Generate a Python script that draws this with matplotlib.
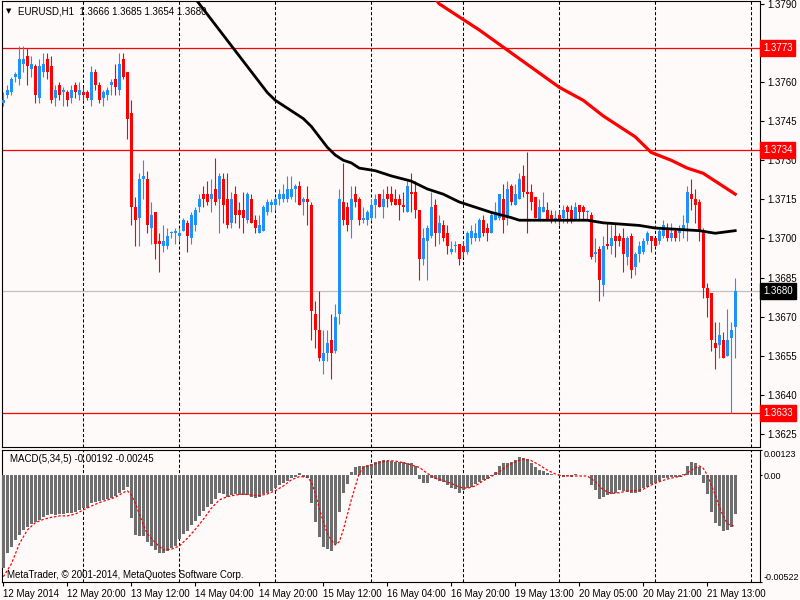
import numpy as np
import matplotlib
matplotlib.use("Agg")
import matplotlib.pyplot as plt
import matplotlib.transforms as mtrans

plt.rcParams['font.family'] = ['Liberation Sans', 'DejaVu Sans']
plt.rcParams['font.size'] = 7

# EURUSD H1 candles, 12 May 04:00 .. 21 May 20:00 (one value per bar)
opens = [
    1.3752, 1.3755, 1.3756, 1.3762, 1.3761, 1.3767, 1.3770, 1.3765, 1.3766, 1.3754,
    1.3764, 1.3769, 1.3766, 1.3754, 1.3759, 1.3756, 1.3756, 1.3754, 1.3759, 1.3755,
    1.3756, 1.3756, 1.3753, 1.3764, 1.3759, 1.3754, 1.3755, 1.3759, 1.3761, 1.3757,
    1.3769, 1.3764, 1.3748, 1.3712, 1.3708, 1.3723, 1.3723, 1.3704, 1.3710, 1.3699,
    1.3697, 1.3697, 1.3702, 1.3702, 1.3701, 1.3703, 1.3706, 1.3700, 1.3705, 1.3712,
    1.3717, 1.3717, 1.3715, 1.3719, 1.3715, 1.3723, 1.3715, 1.3706, 1.3717, 1.3711,
    1.3711, 1.3707, 1.3715, 1.3707, 1.3702, 1.3703, 1.3710, 1.3713, 1.3713, 1.3715,
    1.3715, 1.3715, 1.3716, 1.3719, 1.3720, 1.3714, 1.3715, 1.3713, 1.3671, 1.3665,
    1.3653, 1.3656, 1.3661, 1.3657, 1.3671, 1.3714, 1.3712, 1.3707, 1.3717, 1.3715,
    1.3707, 1.3707, 1.3708, 1.3713, 1.3717, 1.3712, 1.3717, 1.3717, 1.3715, 1.3715,
    1.3713, 1.3710, 1.3718, 1.3718, 1.3711, 1.3692, 1.3699, 1.3701, 1.3713, 1.3702,
    1.3705, 1.3702, 1.3695, 1.3697, 1.3698, 1.3697, 1.3695, 1.3700, 1.3700, 1.3700,
    1.3707, 1.3704, 1.3702, 1.3707, 1.3708, 1.3715, 1.3708, 1.3720, 1.3713, 1.3715,
    1.3724, 1.3718, 1.3718, 1.3716, 1.3707, 1.3710, 1.3711, 1.3709, 1.3707, 1.3709,
    1.3708, 1.3712, 1.3711, 1.3707, 1.3713, 1.3712, 1.3710, 1.3709, 1.3694, 1.3696,
    1.3682, 1.3698, 1.3697, 1.3701, 1.3701, 1.3700, 1.3693, 1.3701, 1.3689, 1.3694,
    1.3695, 1.3699, 1.3701, 1.3700, 1.3699, 1.3701, 1.3704, 1.3700, 1.3703, 1.3702,
    1.3703, 1.3706, 1.3717, 1.3715, 1.3714, 1.3703, 1.3681, 1.3679, 1.3660, 1.3659,
    1.3661, 1.3655, 1.3662, 1.3666]
highs = [
    1.3756, 1.3759, 1.3762, 1.3764, 1.3774, 1.3774, 1.3773, 1.3770, 1.3767, 1.3769,
    1.3771, 1.3771, 1.3770, 1.3759, 1.3760, 1.3758, 1.3757, 1.3759, 1.3760, 1.3760,
    1.3758, 1.3757, 1.3766, 1.3765, 1.3760, 1.3757, 1.3758, 1.3761, 1.3767, 1.3771,
    1.3771, 1.3764, 1.3753, 1.3716, 1.3725, 1.3730, 1.3726, 1.3714, 1.3710, 1.3702,
    1.3705, 1.3704, 1.3703, 1.3704, 1.3704, 1.3708, 1.3707, 1.3710, 1.3712, 1.3717,
    1.3720, 1.3722, 1.3723, 1.3731, 1.3725, 1.3725, 1.3725, 1.3718, 1.3720, 1.3714,
    1.3718, 1.3718, 1.3717, 1.3709, 1.3709, 1.3713, 1.3715, 1.3715, 1.3716, 1.3719,
    1.3721, 1.3724, 1.3724, 1.3721, 1.3722, 1.3716, 1.3720, 1.3714, 1.3676, 1.3680,
    1.3665, 1.3665, 1.3671, 1.3675, 1.3719, 1.3729, 1.3714, 1.3720, 1.3720, 1.3716,
    1.3712, 1.3711, 1.3715, 1.3717, 1.3717, 1.3719, 1.3720, 1.3720, 1.3719, 1.3717,
    1.3718, 1.3722, 1.3725, 1.3722, 1.3711, 1.3704, 1.3705, 1.3718, 1.3715, 1.3709,
    1.3707, 1.3705, 1.3699, 1.3699, 1.3698, 1.3699, 1.3703, 1.3705, 1.3706, 1.3708,
    1.3709, 1.3706, 1.3710, 1.3714, 1.3717, 1.3721, 1.3722, 1.3721, 1.3721, 1.3725,
    1.3728, 1.3733, 1.3721, 1.3716, 1.3715, 1.3718, 1.3714, 1.3711, 1.3711, 1.3711,
    1.3713, 1.3713, 1.3713, 1.3714, 1.3713, 1.3713, 1.3711, 1.3710, 1.3700, 1.3697,
    1.3701, 1.3706, 1.3705, 1.3706, 1.3702, 1.3704, 1.3701, 1.3702, 1.3695, 1.3699,
    1.3700, 1.3703, 1.3701, 1.3700, 1.3704, 1.3707, 1.3706, 1.3706, 1.3704, 1.3705,
    1.3709, 1.3720, 1.3723, 1.3719, 1.3715, 1.3704, 1.3683, 1.3679, 1.3668, 1.3668,
    1.3664, 1.3673, 1.3668, 1.3685]
lows = [
    1.3751, 1.3754, 1.3755, 1.3760, 1.3759, 1.3764, 1.3759, 1.3762, 1.3752, 1.3752,
    1.3762, 1.3761, 1.3752, 1.3751, 1.3753, 1.3751, 1.3751, 1.3752, 1.3754, 1.3753,
    1.3753, 1.3753, 1.3751, 1.3757, 1.3752, 1.3751, 1.3753, 1.3755, 1.3755, 1.3755,
    1.3761, 1.3738, 1.3705, 1.3697, 1.3697, 1.3715, 1.3702, 1.3698, 1.3692, 1.3687,
    1.3695, 1.3696, 1.3700, 1.3698, 1.3699, 1.3703, 1.3695, 1.3698, 1.3703, 1.3710,
    1.3712, 1.3713, 1.3710, 1.3713, 1.3702, 1.3706, 1.3704, 1.3704, 1.3706, 1.3704,
    1.3702, 1.3706, 1.3706, 1.3702, 1.3702, 1.3703, 1.3709, 1.3710, 1.3711, 1.3713,
    1.3714, 1.3714, 1.3715, 1.3714, 1.3713, 1.3709, 1.3705, 1.3661, 1.3658, 1.3653,
    1.3648, 1.3653, 1.3646, 1.3656, 1.3667, 1.3705, 1.3703, 1.3700, 1.3712, 1.3705,
    1.3706, 1.3705, 1.3707, 1.3708, 1.3712, 1.3708, 1.3712, 1.3713, 1.3713, 1.3707,
    1.3710, 1.3710, 1.3710, 1.3708, 1.3684, 1.3690, 1.3684, 1.3700, 1.3697, 1.3698,
    1.3699, 1.3694, 1.3694, 1.3695, 1.3690, 1.3693, 1.3694, 1.3698, 1.3699, 1.3699,
    1.3701, 1.3699, 1.3702, 1.3707, 1.3707, 1.3702, 1.3705, 1.3713, 1.3713, 1.3715,
    1.3716, 1.3702, 1.3711, 1.3708, 1.3707, 1.3710, 1.3707, 1.3706, 1.3706, 1.3705,
    1.3706, 1.3706, 1.3706, 1.3707, 1.3707, 1.3707, 1.3707, 1.3692, 1.3691, 1.3676,
    1.3678, 1.3696, 1.3694, 1.3693, 1.3697, 1.3687, 1.3690, 1.3685, 1.3686, 1.3691,
    1.3694, 1.3698, 1.3695, 1.3697, 1.3698, 1.3700, 1.3699, 1.3699, 1.3699, 1.3699,
    1.3700, 1.3699, 1.3711, 1.3706, 1.3699, 1.3677, 1.3670, 1.3657, 1.3650, 1.3654,
    1.3654, 1.3655, 1.3633, 1.3654]
closes = [
    1.3753, 1.3757, 1.3761, 1.3763, 1.3769, 1.3769, 1.3766, 1.3767, 1.3755, 1.3766,
    1.3767, 1.3764, 1.3753, 1.3757, 1.3755, 1.3757, 1.3753, 1.3757, 1.3756, 1.3757,
    1.3755, 1.3754, 1.3764, 1.3759, 1.3753, 1.3756, 1.3757, 1.3760, 1.3758, 1.3767,
    1.3762, 1.3746, 1.3712, 1.3707, 1.3723, 1.3724, 1.3705, 1.3709, 1.3698, 1.3698,
    1.3699, 1.3701, 1.3702, 1.3703, 1.3702, 1.3707, 1.3701, 1.3709, 1.3711, 1.3715,
    1.3715, 1.3714, 1.3717, 1.3714, 1.3724, 1.3713, 1.3705, 1.3715, 1.3709, 1.3709,
    1.3708, 1.3717, 1.3706, 1.3704, 1.3705, 1.3712, 1.3714, 1.3714, 1.3715, 1.3717,
    1.3717, 1.3719, 1.3719, 1.3720, 1.3713, 1.3715, 1.3714, 1.3672, 1.3665, 1.3654,
    1.3656, 1.3660, 1.3656, 1.3670, 1.3715, 1.3707, 1.3705, 1.3715, 1.3714, 1.3707,
    1.3708, 1.3710, 1.3713, 1.3715, 1.3712, 1.3715, 1.3715, 1.3714, 1.3713, 1.3713,
    1.3712, 1.3720, 1.3717, 1.3711, 1.3692, 1.3700, 1.3704, 1.3712, 1.3702, 1.3706,
    1.3700, 1.3697, 1.3696, 1.3697, 1.3692, 1.3695, 1.3702, 1.3703, 1.3702, 1.3707,
    1.3702, 1.3702, 1.3709, 1.3710, 1.3717, 1.3707, 1.3719, 1.3714, 1.3717, 1.3723,
    1.3718, 1.3717, 1.3714, 1.3708, 1.3712, 1.3712, 1.3707, 1.3707, 1.3708, 1.3707,
    1.3711, 1.3710, 1.3707, 1.3712, 1.3710, 1.3710, 1.3710, 1.3693, 1.3695, 1.3684,
    1.3697, 1.3697, 1.3700, 1.3699, 1.3699, 1.3694, 1.3700, 1.3688, 1.3694, 1.3697,
    1.3699, 1.3702, 1.3699, 1.3697, 1.3703, 1.3705, 1.3700, 1.3702, 1.3700, 1.3703,
    1.3705, 1.3718, 1.3715, 1.3713, 1.3703, 1.3681, 1.3677, 1.3661, 1.3658, 1.3663,
    1.3654, 1.3661, 1.3665, 1.3680]

# moving averages at a few bars
ma_black_bars = [48, 50, 54, 57, 61, 64, 66, 68, 70, 72, 75, 77, 79, 81, 83, 85, 87, 89,
                 93, 97, 102, 106, 110, 114, 118, 122, 127, 129, 146, 150, 159, 163,
                 174, 178, 183]
ma_black_vals = [1.3792, 1.3788, 1.3780, 1.3774, 1.3766, 1.3760, 1.3756, 1.3753, 1.3751,
                 1.3749, 1.3746, 1.3743, 1.3739, 1.3735, 1.3732, 1.3730, 1.3729, 1.3727,
                 1.3726, 1.3724, 1.3722, 1.3719, 1.3717, 1.3714, 1.3712, 1.3710, 1.3708,
                 1.3707, 1.3707, 1.3706, 1.3705, 1.3704, 1.3703, 1.3702, 1.3703]
ma_red_bars = [108, 109, 119, 129, 139, 145, 150, 154, 158, 162, 167, 171, 175, 179, 183]
ma_red_vals = [1.3792, 1.3790, 1.3780, 1.3769, 1.3758, 1.3753, 1.3747, 1.3743,
               1.3739, 1.3733, 1.3730, 1.3727, 1.3725, 1.3721, 1.3717]

# horizontal levels
red_levels = [1.3773, 1.3734, 1.3633]
last_price = 1.3680

# MACD(5,34,5) main histogram, units of 1e-5
macd_main = np.array([
    -452, -379, -353, -317, -292, -268, -255, -238, -230, -219,
    -206, -196, -190, -193, -190, -190, -186, -183, -178, -170,
    -162, -162, -137, -129, -124, -121, -118, -111, -102, -89,
    -72, -59, -211, -292, -295, -297, -325, -346, -365, -382,
    -379, -369, -357, -346, -313, -287, -271, -245, -222, -199,
    -173, -157, -141, -115, -85, -92, -108, -98, -94, -97,
    -98, -97, -105, -111, -108, -94, -85, -76, -64, -50,
    -36, -27, -15, -7, 9, -7, -15, -134, -227, -304,
    -349, -361, -369, -336, -178, -89, -45, 14, 42, 45,
    45, 48, 55, 66, 71, 74, 71, 71, 66, 63,
    66, 61, 58, 45, -20, -36, -36, -15, -20, -27,
    -32, -48, -61, -69, -85, -72, -61, -56, -45, -32,
    -23, -20, -4, 17, 45, 58, 61, 66, 74, 87,
    82, 78, 58, 38, 25, 22, 9, 6, -1, -4,
    -7, -4, -10, 4, 1, 3, -1, -48, -72, -116,
    -108, -97, -92, -85, -72, -76, -84, -89, -85, -80,
    -64, -56, -43, -40, -27, -15, -14, -10, -10, -7,
    6, 45, 65, 61, 38, -36, -92, -178, -232, -248,
    -271, -268, -255, -192]) * 1e-5

# signal line, read at a subset of bars (units of 1e-5)
sig_bars = [0, 2, 4, 6, 8, 10, 12, 14, 16, 18, 20, 22, 24, 26, 28, 30,
            31, 32, 33, 34, 35, 36,
            38, 40, 42, 44, 46, 48, 50, 52, 54, 56, 58, 60, 62, 64, 66, 68, 70, 72, 74, 76,
            77, 78, 79, 80, 81, 82, 83, 84, 85, 86, 87, 88, 89, 90,
            92, 94, 96, 98, 100, 102, 104, 106, 108, 110, 112, 114, 116, 118, 120,
            122, 124, 126, 128, 130, 132, 134, 136, 138, 140, 142, 144, 146, 148,
            150, 152, 154, 156, 158, 160, 162, 164, 166, 168, 170, 172, 174,
            175, 176, 177, 178, 179, 180, 181, 182, 183]
sig_vals = np.array([
    -496, -434, -336, -268, -232, -216, -206, -199, -199, -190, -170, -151, -134, -121, -108, -85,
    -76, -97, -137, -190, -243, -287,
    -330, -365, -362, -346, -309, -265, -216, -162, -121, -105, -97, -92, -97, -100, -92, -76,
    -53, -23, -7, -10,
    -32, -89, -162, -227, -284, -317, -341, -325, -268, -195, -121, -56, 9, 38,
    50, 61, 71, 69, 61, 50, 38, 9, -15, -27, -40, -59, -64, -53, -27,
    -7, 17, 45, 66, 78, 71, 50, 25, 6, -4, -4, -4, -4, -32,
    -72, -89, -86, -77, -76, -69, -48, -32, -19, -10, -4, 25, 45,
    34, 1, -48, -97, -154, -199, -235, -248, -245]) * 1e-5

day_bars = [20, 44, 68, 92, 115, 139, 163, 187]
label_bars = [0, 16, 32, 48, 64, 80, 96, 112, 128, 144, 160, 176]
time_labels = ["12 May 2014", "12 May 20:00", "13 May 12:00", "14 May 04:00",
               "14 May 20:00", "15 May 12:00", "16 May 04:00", "16 May 20:00",
               "19 May 13:00", "20 May 05:00", "20 May 21:00", "21 May 13:00"]
price_ticks = [1.3625, 1.3640, 1.3655, 1.3670, 1.3685, 1.3700, 1.3715,
               1.3730, 1.3745, 1.3760, 1.3775, 1.3790]

bg = "#fffafa"
up_col = "#1e90ff"
dn_col = "#ff0000"

W, H = 800, 600
fig = plt.figure(figsize=(8, 6), dpi=100, facecolor=bg)
ax = fig.add_axes([2 / W, 1 - 447 / H, 758 / W, 446 / H], facecolor=bg)
ax2 = fig.add_axes([2 / W, 1 - 582 / H, 758 / W, 132 / H], facecolor=bg)

o = np.array(opens)
hi = np.array(highs)
lo = np.array(lows)
c = np.array(closes)
idx = np.arange(len(o))
cols = np.where(c >= o, up_col, dn_col)

for a in (ax, ax2):
    for b in day_bars:
        a.axvline(b, color="black", lw=0.75, ls=(0, (3, 2)), zorder=1)
    for s in a.spines.values():
        s.set_linewidth(0.8)
    a.set_xlim(-0.33, 189.2)

# levels
for lv in red_levels:
    ax.axhline(lv, color=dn_col, lw=0.9, zorder=2)
ax.axhline(last_price, color="#c0c0c0", lw=0.9, zorder=2)

# candles
ax.vlines(idx, lo, hi, colors=cols, lw=0.8, zorder=3)
body_h = np.maximum(np.abs(c - o), 0.00004)
ax.bar(idx, body_h, bottom=np.minimum(o, c), width=0.72, color=cols, linewidth=0, zorder=4)

# moving averages
ax.plot(ma_black_bars, ma_black_vals, color="black", lw=2.0, zorder=5,
        solid_joinstyle="round")
ax.plot(ma_red_bars, ma_red_vals, color=dn_col, lw=2.3, zorder=5,
        solid_joinstyle="round")

ax.set_ylim(1.3620, 1.37911)
ax.set_xticks([])
ax.yaxis.tick_right()
ax.set_yticks(price_ticks)
# the 1.3775 label sits under the 1.3773 price tag
ax.set_yticklabels(["" if abs(p - 1.3775) < 1e-6 else "%.4f" % p for p in price_ticks])
ax.tick_params(axis="y", direction="out", length=3, width=0.8, pad=2, labelsize=7)

# price tags on the right scale
trans = mtrans.blended_transform_factory(ax.transAxes, ax.transData)
for lv in red_levels:
    ax.text(1.004, lv, "%.4f" % lv, transform=trans, color="white", fontsize=7,
            va="center", ha="left", clip_on=False, zorder=10,
            bbox=dict(boxstyle="square,pad=0.3", fc=dn_col, ec=dn_col))
ax.text(1.004, last_price, "%.4f" % last_price, transform=trans, color="white", fontsize=7,
        va="center", ha="left", clip_on=False, zorder=10,
        bbox=dict(boxstyle="square,pad=0.3", fc="black", ec="black"))

# header
fig.text(6 / W, 1 - 11 / H, "\u25bc", fontsize=5, va="center", ha="left",
         family="DejaVu Sans")
fig.text(18 / W, 1 - 11 / H, "EURUSD,H1  %.4f %.4f %.4f %.4f" % (o[-1], hi[-1], lo[-1], c[-1]),
         fontsize=7, va="center", ha="left")

# MACD panel
ax2.bar(idx, macd_main, width=0.72, color="#6e6e6e", linewidth=0, zorder=3)
ax2.plot(sig_bars, sig_vals, color=dn_col, lw=0.9, ls=(0, (2, 1.5)), zorder=4)
ax2.set_ylim(-0.00522, 0.00123)
ax2.yaxis.tick_right()
ax2.set_yticks([0.00123, 0.0, -0.00522])
ax2.set_yticklabels(["0.00123", "0.00", "-0.00522"])
ax2.tick_params(axis="y", direction="out", length=1.5, width=0.8, pad=1, labelsize=6.5)
ylabs = ax2.get_yticklabels()
ylabs[0].set_va("top")
ylabs[2].set_va("bottom")
ax2.set_xticks(label_bars)
ax2.set_xticklabels(time_labels)
for t in ax2.get_xticklabels():
    t.set_ha("left")
ax2.tick_params(axis="x", direction="out", length=3, width=0.8, pad=2, labelsize=7)
ax2.text(8 / 758, 1 - 9 / 132, "MACD(5,34,5) %.5f %.5f" % (macd_main[-1], sig_vals[-1]),
         transform=ax2.transAxes, fontsize=7, va="center", ha="left")
ax2.text(5 / 758, 7 / 132, "MetaTrader, \u00a9 2001-2014, MetaQuotes Software Corp.",
         transform=ax2.transAxes, fontsize=7, va="center", ha="left")

fig.savefig("out.png", dpi=100, facecolor=bg)
